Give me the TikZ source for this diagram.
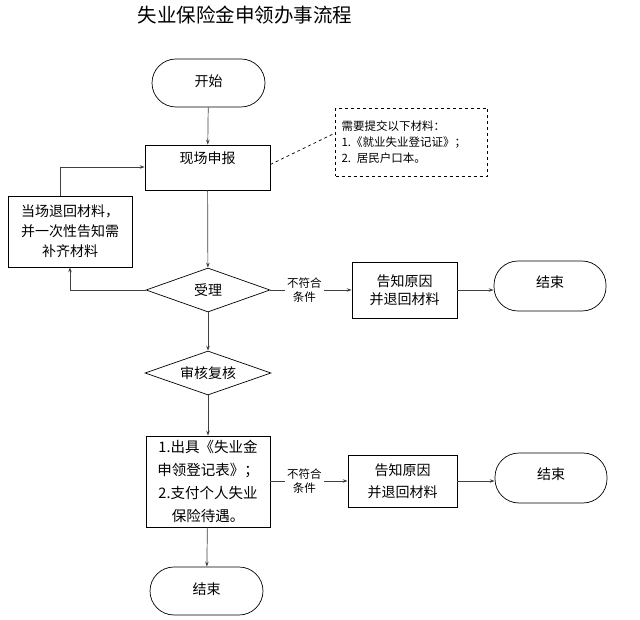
\documentclass[tikz,border=0pt]{standalone}
\usepackage{fontspec}
\setmainfont{Noto Sans CJK SC}
\usetikzlibrary{shapes.geometric,arrows.meta}

\tikzset{
  terminal/.style={draw, rounded corners=24pt, minimum width=113pt, minimum height=48pt, inner sep=0pt},
  step box/.style={draw, align=center, inner sep=0pt},
  decision/.style={draw, diamond, aspect=2.8, minimum width=124pt, minimum height=44pt, inner sep=0pt},
  flow/.style={draw=black!75, -{Stealth[length=5pt,width=3.5pt]}},
  nolabel/.style={fill=white, align=center, font=\fontsize{11.5}{14}\selectfont, inner sep=2pt}
}

\begin{document}
\begin{tikzpicture}[x=1pt, y=-1pt, line width=0.7pt, font=\fontsize{14}{20}\selectfont]

\useasboundingbox (0,0) rectangle (640,620);

% Title
\node[font=\fontsize{19.5}{22}\selectfont] (title) at (245,15) {失业保险金申领办事流程};

% Start
\node[terminal] (start) at (208.5,83) {\raisebox{5pt}{开始}};

% Apply on site
\node[step box, minimum width=125pt, minimum height=45pt,
      label={[anchor=north, yshift=-3pt]north:{现场申报}}] (apply) at (207.5,167.5) {};

% Materials note
\node[draw, dashed, minimum width=152pt, minimum height=68pt, text width=140pt, align=left,
      inner xsep=6pt, font=\fontsize{11.5}{16}\selectfont] (note) at (411.5,142)
      {需要提交以下材料：\\1.《就业失业登记证》；\\2. 居民户口本。};

% Return materials
\node[step box, minimum width=124pt, minimum height=71pt] (back) at (70,231.5)
      {当场退回材料，\\并一次性告知需\\补齐材料};

% Accept
\node[decision] (accept) at (208,290) {\raisebox{1pt}{受理}};

\node[step box, minimum width=105pt, minimum height=56pt, font=\fontsize{14}{18}\selectfont] (rejectA) at (404.5,290) {告知原因\\并退回材料};
\node[terminal, minimum width=112pt, minimum height=50pt] (endA) at (550,286) {\raisebox{8pt}{结束}};

% Review
\node[decision, minimum width=126pt] (review) at (208,373) {审核复核};

% Issue and pay
\node[step box, minimum width=124pt, minimum height=91pt, font=\fontsize{14.5}{23}\selectfont] (pay) at (208,481.5)
      {1.出具《失业金\\申领登记表》；\\2.支付个人失业\\保险待遇。};

\node[step box, minimum width=109pt, minimum height=52pt, font=\fontsize{14}{22}\selectfont] (rejectB) at (402.5,481) {告知原因\\并退回材料};
\node[terminal, minimum width=112pt, minimum height=50pt] (endB) at (551,478) {\raisebox{8pt}{结束}};

% End
\node[terminal] (endC) at (206.5,591) {\raisebox{5pt}{结束}};

% Connectors
\draw[flow] (start) -- (apply);
\draw[dashed] (apply.east) ++(0,-3) -- ([yshift=9pt]note.west);
\draw[flow] (apply) -- (accept);
\draw[flow] (accept.west) -| (back.south);
\draw[flow] ([xshift=-10pt]back.north) |- ([yshift=0.5pt]apply.west);
\draw[flow] (accept.east) -- node[nolabel, pos=0.42] (noA) {不符合\\条件} (rejectA.west);
\draw[flow] (rejectA.east) -- (rejectA.east -| endA.west);
\draw[flow] (accept) -- (review);
\draw[flow] (review) -- (pay);
\draw[flow] (pay.east |- rejectB.west) -- node[nolabel, pos=0.44] (noB) {不符合\\条件} (rejectB.west);
\draw[flow] (rejectB.east) -- (rejectB.east -| endB.west);
\draw[flow] (pay) -- (endC);

\end{tikzpicture}
\end{document}
